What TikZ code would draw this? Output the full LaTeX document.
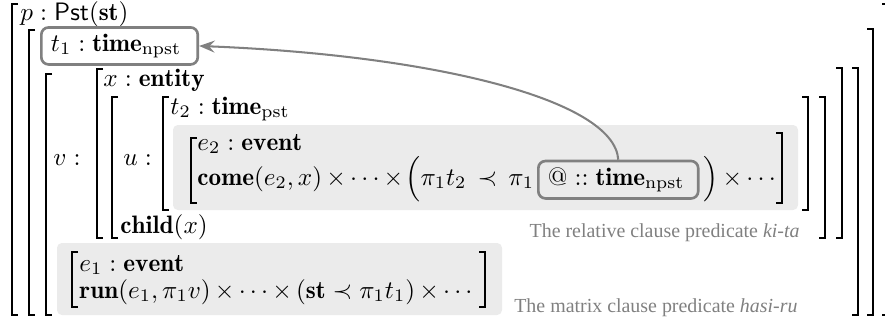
\RequirePackage{fix-cm}
\documentclass[tikz,border=0pt]{standalone}
\usepackage{amsmath,amssymb}
\usepackage{fontspec}
\newfontfamily\notefont{Liberation Serif}
\usetikzlibrary{arrows.meta}
\medmuskip=3mu plus 2mu minus 3mu
\tikzset{
  brk/.style={line width=0.75pt},
  row/.style={anchor=base west, inner sep=0pt},
  hl/.style={draw=black!50, line width=1.1pt, rounded corners=3pt, inner xsep=4pt, inner ysep=2.6pt},
  shade/.style={fill=black!8, rounded corners=2pt},
  note/.style={anchor=base east, inner sep=0pt, text=black!50, font=\notefont\fontsize{8.3}{10}\selectfont},
  conn/.style={draw=black!50, line width=0.85pt, -{Stealth[length=6.5pt,width=5pt,inset=2.3pt]}}
}
\begin{document}
\begin{tikzpicture}[x=0.41667pt,y=-0.41667pt,font=\fontsize{10.5}{12.6}\selectfont]
\useasboundingbox (0,0) rectangle (885,324);
% highlighted records
\fill[shade] (173,125) rectangle (798,210);
\fill[shade] (57,243) rectangle (502,315);
% brackets
\foreach \x/\t/\b in {12/4/315, 29/30/315, 46/74/315, 97/69/238, 112/97/238, 163/97/210, 191/138/203, 72/252/307}
  \draw[brk] (\x+6,\t) -- (\x,\t) -- (\x,\b) -- (\x+6,\b);
\foreach \x/\t/\b in {888/4/315, 873/29/315, 858/68/315, 842/68/238, 825/97/238, 808/97/210, 782/133/203, 485/252/307}
  \draw[brk] (\x-6,\t) -- (\x,\t) -- (\x,\b) -- (\x-6,\b);
% entries
\node[row] (p) at (20,20) {$p : \mathsf{Pst}(\mathbf{st})$};
\node[hl, anchor=base west] (t1) at (40,51) {$t_1 : \mathbf{time}_{\mathrm{npst}}\;$};
\node[row] (v) at (53,165) {$v :$};
\node[row] (x) at (103,86) {$x : \mathbf{entity}$};
\node[row] (u) at (123,165) {$u :$};
\node[row] (t2) at (170,114) {$t_2 : \mathbf{time}_{\mathrm{pst}}$};
\node[row] (e2) at (197,150) {$e_2 : \mathbf{event}$};
\node[row] (come) at (197,185) {$\mathbf{come}(e_2, x) \times \cdots \times$};
\node[row] (cmp) at (405,185) {$\Big(\pi_1 t_2 \mathrel{\,\prec\,} \pi_1$};
\node[hl, anchor=base west] (at) at (537,185) {$\text{@} :: \mathbf{time}_{\mathrm{npst}}\,$};
\node[row] (close) at (703,185) {$\Big) \times \cdots$};
\node[row] (child) at (120,233) {$\mathbf{child}(x)$};
\node[note] (rel) at (800,237) {The relative clause predicate \textit{ki-ta}};
\node[row] (e1) at (79,271) {$e_1 : \mathbf{event}$};
\node[row] (run) at (79,298) {$\mathbf{run}(e_1, \pi_1 v) \times \cdots \times (\mathbf{st} \prec \pi_1 t_1) \times \cdots$};
\node[note] (mat) at (798,312) {The matrix clause predicate \textit{hasi-ru}};
% anaphoric link
\draw[conn] (at.north) .. controls +(-4,-61) and +(230,9) .. (t1.east);
\end{tikzpicture}
\end{document}
